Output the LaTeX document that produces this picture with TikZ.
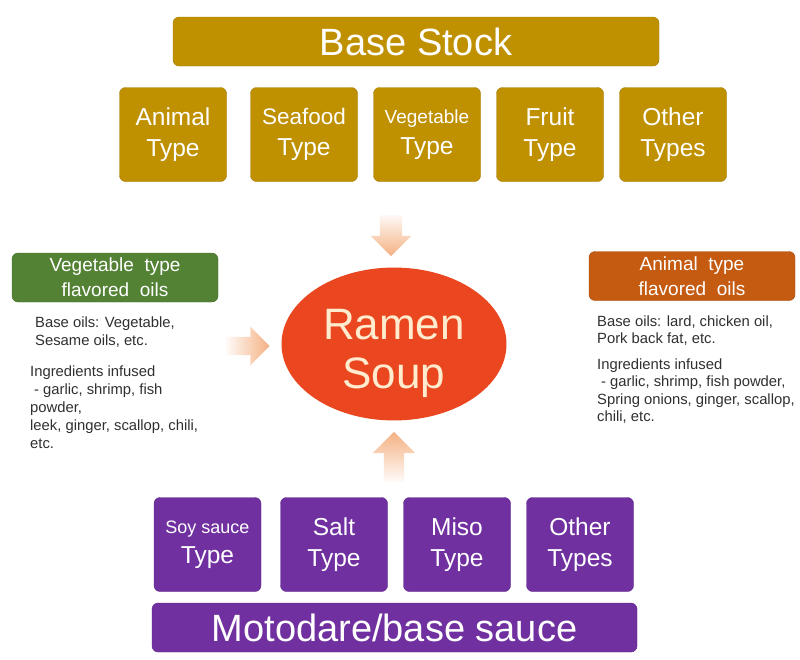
\documentclass[tikz,border=0pt]{standalone}
\usepackage{fontspec}
\setmainfont{Liberation Sans}
\usetikzlibrary{positioning,shapes.geometric,shapes.arrows}
\definecolor{stockgold}{HTML}{BF9000}
\definecolor{oilgreen}{HTML}{548235}
\definecolor{oilorange}{HTML}{C55A11}
\definecolor{saucepurple}{HTML}{7030A0}
\definecolor{soupred}{HTML}{EA461F}
\definecolor{peach}{HTML}{F4B183}
\definecolor{cream}{HTML}{FFEBCD}
\definecolor{notegray}{HTML}{303030}
\tikzset{
	box/.style={rectangle, rounded corners=6pt, inner sep=0pt, align=center, text=white},
	stock/.style={box, fill=stockgold, draw=stockgold!85!black},
	sauce/.style={box, fill=saucepurple, draw=saucepurple!85!black},
	kind/.style={minimum width=107pt, minimum height=94pt, font=\fontsize{24.5}{30.5}\selectfont},
	title/.style={minimum width=486pt, minimum height=49pt, font=\fontsize{38}{44}\selectfont},
	oil/.style={box, minimum width=206pt, minimum height=49pt, font=\fontsize{19}{25}\selectfont},
	note/.style={anchor=north west, align=left, inner sep=0pt, text=notegray},
	fatarrow/.style={single arrow, draw=none},
}

\begin{document}
\begin{tikzpicture}[x=1pt, y=-1pt]
	\fill[white] (0,0) rectangle (800,659);
	\useasboundingbox (0,0) rectangle (800,659);
	\begin{scope}
		% base stock, top row
		\node[stock, title] (stock) at (416,41.5) {Base Stock};
		\node[stock, kind] (animal) at (173,134.5) {Animal\\Type};
		\node[stock, kind] (seafood) at (304,134.5) {{\fontsize{22.5}{30}\selectfont Seafood}\\Type};
		\node[stock, kind] (vegetable) at (427,134.5) {{\fontsize{19}{30}\selectfont Vegetable}\\Type};
		\node[stock, kind] (fruit) at (550,134.5) {Fruit\\Type};
		\node[stock, kind] (others) at (673,134.5) {Other\\Types};

		% soup in the middle
		\node[ellipse, fill=soupred, minimum width=225pt, minimum height=148pt, inner sep=0pt,
			align=center, text=cream, font=\fontsize{44}{49}\selectfont]
			(soup) at (394,344) {\rule{0pt}{50pt}Ramen\\Soup};

		% flavored oils
		\node[oil, fill=oilgreen, draw=oilgreen!85!black] (vegoil) at (115,277.5) {Vegetable\ \ type\\flavored\ \ oils};
		\node[oil, fill=oilorange, draw=oilorange!85!black] (animaloil) at (692,276) {Animal\ \ type\\flavored\ \ oils};

		\node[note, font=\fontsize{14.8}{18}\selectfont] (vegbase) at (35,316.5) {Base oils: Vegetable,\\Sesame oils, etc.};
		\node[note, font=\fontsize{14.8}{18}\selectfont] (veginfused) at (30,365.5)
			{Ingredients infused\\\hspace*{4pt}- garlic, shrimp, fish\\powder,\\leek, ginger, scallop, chili,\\etc.};
		\node[note, font=\fontsize{14.8}{17.5}\selectfont] (animalbase) at (597,315.5) {Base oils: lard, chicken oil,\\Pork back fat, etc.};
		\node[note, font=\fontsize{14.8}{17.5}\selectfont] (animalinfused) at (597,358.5)
			{Ingredients infused\\\hspace*{4pt}- garlic, shrimp, fish powder,\\Spring onions, ginger, scallop,\\chili, etc.};

		% arrows into the soup
		\node[fatarrow, shape border rotate=270, minimum height=41pt, inner xsep=11pt, inner ysep=0pt,
			single arrow head extend=9pt, top color=peach!8, middle color=peach!95, bottom color=peach]
			(fromstock) at (391,230) {};
		\node[fatarrow, minimum height=44pt, inner xsep=0pt, inner ysep=9pt, single arrow head extend=10pt,
			left color=peach!5, middle color=peach!95, right color=peach]
			(fromoil) at (243,346) {};
		\node[fatarrow, shape border rotate=90, minimum height=50pt, inner xsep=10pt, inner ysep=0pt,
			single arrow head extend=11pt, top color=peach, middle color=peach!95, bottom color=peach!5]
			(fromsauce) at (394,462) {};

		% motodare, bottom row
		\node[sauce, kind] (soy) at (207.5,544.5) {{\fontsize{18}{30.5}\selectfont Soy sauce}\\Type};
		\node[sauce, kind] (salt) at (334,544.5) {Salt\\Type};
		\node[sauce, kind] (miso) at (457,544.5) {Miso\\Type};
		\node[sauce, kind] (othersauce) at (580,544.5) {Other\\Types};
		\node[sauce, title, minimum width=485pt] (motodare) at (394.5,627.5) {Motodare/base sauce};
	\end{scope}
\end{tikzpicture}
\end{document}
